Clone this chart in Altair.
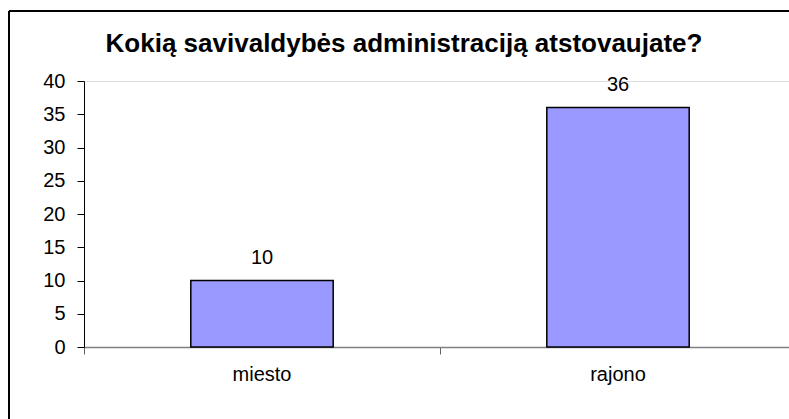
import altair as alt
import pandas as pd

categories = ["miesto", "rajono"]
values = [10, 36]
y_ticks = [0, 5, 10, 15, 20, 25, 30, 35, 40]
title_text = "Kokią savivaldybės administraciją atstovaujate?"

df = pd.DataFrame({"cat": categories, "val": values})
tdf = pd.DataFrame({"t": [title_text]})
FONT = "Liberation Sans"

x_enc = alt.X("cat:N", sort=categories, title=None,
              scale=alt.Scale(range=[0, 712], paddingInner=0, paddingOuter=0),
              axis=alt.Axis(labelAngle=0, bandPosition=0, domainColor="#808080",
                            domainWidth=1.5, tickColor="#606060", tickSize=7,
                            labelPadding=10, labelFontSize=20, labelFont=FONT,
                            labelColor="black"))
y_enc = alt.Y("val:Q", title=None,
              scale=alt.Scale(domain=[0, 40], nice=False),
              axis=alt.Axis(values=y_ticks, grid=False, domainColor="black",
                            tickColor="black", tickSize=7, labelPadding=12,
                            labelFontSize=20, labelFont=FONT, labelColor="black"))

bars = alt.Chart(df).mark_bar(
    width=alt.RelativeBandSize(0.4), fill="#9999FF", stroke="black", strokeWidth=1.5
).encode(x=x_enc, y=y_enc)

labels = alt.Chart(df).mark_text(
    baseline="alphabetic", dy=-17, fontSize=20, font=FONT, color="black"
).encode(x=x_enc, y=y_enc, text="val:Q")

title = alt.Chart(tdf).mark_text(
    baseline="alphabetic", align="center", fontSize=26, fontWeight="bold",
    font=FONT, color="black"
).encode(x=alt.value(320), y=alt.value(-29), text="t:N")

frame_left = alt.Chart(df).mark_rule(color="black", strokeWidth=2).encode(
    x=alt.value(-75), y=alt.value(-70), y2=alt.value(400))
frame_top = alt.Chart(df).mark_rule(color="black", strokeWidth=2).encode(
    x=alt.value(-75), x2=alt.value(800), y=alt.value(-70))

chart = alt.layer(frame_left, frame_top, bars, labels, title).properties(
    width=705, height=266,
    autosize=alt.AutoSizeParams(type="none"),
    padding={"left": 84, "top": 81, "right": 0, "bottom": 72},
).configure_view(stroke=None).configure(background="white")

chart.save("out.html", embed_options={"renderer": "svg", "actions": False})
